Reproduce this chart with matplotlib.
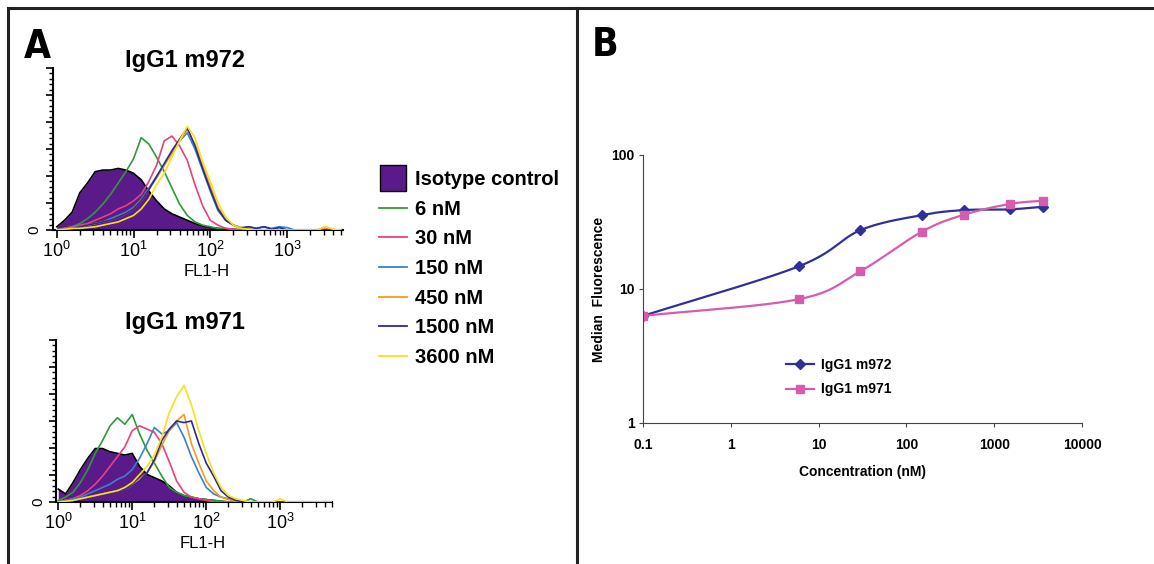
import matplotlib
matplotlib.use("Agg")
import matplotlib.pyplot as plt
import numpy as np
from matplotlib.lines import Line2D
from matplotlib.ticker import FixedLocator, FixedFormatter, NullFormatter

plt.rcParams['font.family'] = ['Liberation Sans', 'DejaVu Sans']
plt.rcParams['mathtext.fontset'] = 'custom'
plt.rcParams['mathtext.rm'] = 'Liberation Sans'

# histogram channels, log10(FL1-H)
log_fl = np.round(np.arange(0, 3.75, 0.1), 1)

# panel A, top (IgG1 m972), counts as % of axis height
iso_top = [2, 6, 11, 23, 29, 36, 37, 37, 38, 37, 35, 31, 24, 18, 13, 10, 8, 6, 4, 2.5, 1.5, 1, 0.5, 0.5,
           0, 0, 0, 0, 0, 0, 0, 0, 0, 0, 0, 0, 0, 0]
green_top = [0, 1, 2, 4, 7, 11, 16, 22, 29, 36, 44, 57, 53, 45, 36, 26, 16, 9, 5, 3, 2, 1, 1,
             0, 0, 0, 0, 0, 0, 0, 0, 0, 0, 0, 0, 0, 0, 0]
pink_top = [0, 1, 2, 3, 4, 6, 8, 10, 13, 15, 18, 22, 30, 40, 55, 58, 52, 43, 28, 15, 6, 3, 1, 0.5,
            0, 0.5, 0, 0, 0, 0, 0, 0, 0, 0, 0, 1.5, 0, 0]
blue_top = [0, 1, 1.5, 2, 3, 4, 5, 7, 9, 11, 14, 19, 26, 33, 40, 48, 55, 60, 50, 37, 24, 12, 6, 3, 1.5,
            2, 1, 2, 1, 2, 1.5, 0, 0, 0, 0, 0, 0, 0]
orange_top = [0, 0.5, 1, 2, 3, 4, 5, 6, 8, 10, 13, 18, 25, 32, 40, 47, 55, 62, 53, 40, 27, 14, 7, 3, 1.5,
              0.5, 0, 0, 0, 0, 0, 0, 0, 0, 0, 2, 0, 0]
navy_top = [0, 0.5, 1, 2, 3, 4, 5, 6, 8, 10, 13, 18, 25, 33, 41, 49, 56, 63, 52, 38, 25, 13, 6, 3, 1,
            2, 1, 2, 0.5, 1.5, 0, 0, 0, 0, 0, 0, 0, 0]
yellow_top = [0, 0.5, 1, 1, 1.5, 2, 3, 4, 5, 7, 9, 13, 19, 28, 35, 45, 55, 64, 57, 42, 30, 17, 8, 3, 1,
              0.5, 0, 0, 0, 0, 0, 0, 0, 0, 0, 2, 0.5, 0]

# panel A, bottom (IgG1 m971)
iso_bot = [8, 5, 12, 20, 27, 33, 33, 31, 30, 29, 30, 22, 17, 15, 13, 10, 6, 4, 3, 2, 1.5, 1, 0.5,
           0, 0, 0, 0, 0, 0, 0, 0, 0, 0, 0, 0, 0, 0, 0]
green_bot = [1, 3, 6, 12, 20, 30, 38, 47, 52, 48, 54, 42, 32, 24, 16, 9, 6, 4, 3, 2, 1.5, 1, 0.5,
             0, 0, 0, 2, 0, 0, 0, 0, 0, 0, 0, 0, 0, 0, 0]
pink_bot = [0, 1, 2, 4, 7, 11, 16, 22, 28, 34, 44, 47, 45, 43, 36, 25, 13, 6, 3, 2, 1,
            0, 0, 0, 0, 0, 0, 0, 0, 0, 0, 0, 0, 0, 0, 0, 0, 0]
blue_bot = [0, 1, 2, 3, 5, 7, 9, 11, 14, 16, 20, 27, 36, 46, 42, 44, 49, 40, 28, 18, 9, 5, 3, 2, 1,
            0, 0, 0, 0, 0, 0, 0, 0, 0, 0, 0, 0, 0]
orange_bot = [0, 0.5, 1, 2, 3, 4, 5, 6, 7, 8, 10, 14, 18, 25, 35, 44, 50, 54, 36, 24, 13, 7, 3, 1.5, 0.5,
              0, 0, 0, 0, 0, 0, 0, 0, 0, 0, 0, 0, 0]
navy_bot = [0, 0.5, 1, 2, 3, 4, 5, 6, 7, 8, 10, 13, 18, 26, 38, 45, 50, 49, 50, 36, 24, 16, 7, 3, 1,
            0, 0, 0, 0, 0, 0, 0, 0, 0, 0, 0, 0, 0]
yellow_bot = [0, 0.5, 1, 2, 3, 4, 5, 6, 7, 9, 12, 17, 22, 29, 40, 55, 65, 72, 60, 44, 30, 18, 9, 4, 2,
              1, 0, 0, 0, 0, 2, 0, 0, 0, 0, 0, 0, 0]

conc_labels = ['6 nM', '30 nM', '150 nM', '450 nM', '1500 nM', '3600 nM']
conc_colors = ['#2f9a3a', '#e8417c', '#3d7fcf', '#f39c1f', '#2b2b96', '#f6e21a']
iso_color = '#5a1a8a'

# panel B
conc = [0.1, 6, 30, 150, 450, 1500, 3600]
m972 = [6.3, 14.8, 27.5, 35.6, 38.8, 39.3, 41.1]
m971 = [6.3, 8.4, 13.6, 26.8, 35.8, 43.1, 45.6]


def smooth(x, y, n=24):
    # catmull-rom through the points in log-log space, like the spreadsheet "smoothed line"
    lx, ly = np.log10(x), np.log10(y)
    px = np.concatenate([[2 * lx[0] - lx[1]], lx, [2 * lx[-1] - lx[-2]]])
    py = np.concatenate([[2 * ly[0] - ly[1]], ly, [2 * ly[-1] - ly[-2]]])
    ox, oy = [], []
    t = np.linspace(0, 1, n)
    for i in range(1, len(px) - 2):
        for p, o in ((px, ox), (py, oy)):
            p0, p1, p2, p3 = p[i - 1], p[i], p[i + 1], p[i + 2]
            o.extend(0.5 * (2 * p1 + (-p0 + p2) * t + (2 * p0 - 5 * p1 + 4 * p2 - p3) * t ** 2
                            + (-p0 + 3 * p1 - 3 * p2 + p3) * t ** 3))
    return 10 ** np.array(ox), 10 ** np.array(oy)


fig = plt.figure(figsize=(11.54, 5.64), dpi=100)
W, H = 1154, 564


def box(l, t, r, b):
    return [l / W, 1 - b / H, (r - l) / W, (b - t) / H]


def hist_axes(rect, xlim, iso, curves, title, title_y):
    ax = fig.add_axes(rect)
    xs = 10 ** log_fl
    ax.fill_between(xs, 0, iso, color=iso_color, lw=0, zorder=1)
    ax.plot(xs, iso, color='black', lw=1.2, zorder=2)
    for c, col in zip(curves, conc_colors):
        ax.plot(xs, c, color=col, lw=1.2, zorder=3)
    ax.set_xscale('log')
    ax.set_xlim(*xlim)
    ax.set_ylim(0, 100)
    for s in ('top', 'right'):
        ax.spines[s].set_visible(False)
    for s in ('left', 'bottom'):
        ax.spines[s].set_linewidth(1.5)
    ax.set_xticks([1, 10, 100, 1000])
    ax.set_xticklabels([r'$\mathregular{10^{%d}}$' % i for i in range(4)], fontsize=13)
    ax.xaxis.set_minor_locator(FixedLocator([m * 10 ** d for d in range(4) for m in range(2, 10)]))
    ax.xaxis.set_minor_formatter(NullFormatter())
    ax.tick_params(axis='x', which='major', length=6, width=1.2, direction='out', pad=2)
    ax.tick_params(axis='x', which='minor', length=3.5, width=1.0, direction='out')
    ax.yaxis.set_major_locator(FixedLocator(np.linspace(0, 100, 7)))
    ax.yaxis.set_minor_locator(FixedLocator(np.linspace(0, 100, 31)))
    ax.yaxis.set_major_formatter(NullFormatter())
    ax.tick_params(axis='y', which='major', length=5, width=1.2, direction='out')
    ax.tick_params(axis='y', which='minor', length=3, width=1.0, direction='out')
    ax.set_xlabel('FL1-H', fontsize=12, labelpad=1)
    ax.xaxis.set_label_coords(0.53, -0.21)
    ax.text(-0.065, 0.0, '0', rotation=90, transform=ax.transAxes, fontsize=11,
            ha='center', va='center')
    fig.text(0.16, title_y, title, fontsize=17, fontweight='bold', ha='center', va='center')
    return ax


curves_top = [green_top, pink_top, blue_top, orange_top, navy_top, yellow_top]
curves_bot = [green_bot, pink_bot, blue_bot, orange_bot, navy_bot, yellow_bot]
ax1 = hist_axes(box(53, 68, 343, 230), (10 ** -0.05, 10 ** 3.73), iso_top, curves_top,
                'IgG1 m972', 1 - 60 / H)
ax2 = hist_axes(box(56, 340, 332, 502), (10 ** -0.03, 10 ** 3.7), iso_bot, curves_bot,
                'IgG1 m971', 1 - 323 / H)

# legend for panel A
handles = [Line2D([], [], ls='none', marker='s', markersize=19, markerfacecolor=iso_color,
                  markeredgecolor='black', markeredgewidth=1.0)]
handles += [Line2D([], [], color=c, lw=1.3) for c in conc_colors]
fig.legend(handles, ['Isotype control'] + conc_labels, loc='upper left',
           bbox_to_anchor=(369 / W, 1 - 160 / H), frameon=False, borderpad=0,
           handlelength=1.4, handletextpad=0.4, labelspacing=0.53,
           prop={'size': 14.5, 'weight': 'bold'})

# panel B
axb = fig.add_axes(box(643, 155, 1082, 423))
sx, sy = smooth(conc, m972)
axb.plot(sx, sy, color='#30309a', lw=1.6)
axb.plot(conc, m972, ls='none', marker='D', markersize=5.5, color='#30309a')
sx, sy = smooth(conc, m971)
axb.plot(sx, sy, color='#d65cae', lw=1.6)
axb.plot(conc, m971, ls='none', marker='s', markersize=5.5, color='#d65cae')
axb.set_xscale('log')
axb.set_yscale('log')
axb.set_xlim(0.1, 10000)
axb.set_ylim(1, 100)
for s in ('top', 'right'):
    axb.spines[s].set_visible(False)
for s in ('left', 'bottom'):
    axb.spines[s].set_color('#444444')
axb.xaxis.set_major_locator(FixedLocator([0.1, 1, 10, 100, 1000, 10000]))
axb.xaxis.set_major_formatter(FixedFormatter(['0.1', '1', '10', '100', '1000', '10000']))
axb.xaxis.set_minor_locator(FixedLocator([]))
axb.yaxis.set_major_locator(FixedLocator([1, 10, 100]))
axb.yaxis.set_major_formatter(FixedFormatter(['1', '10', '100']))
axb.yaxis.set_minor_locator(FixedLocator([]))
axb.tick_params(length=3, color='#444444', labelsize=10, pad=8)
axb.tick_params(axis='y', pad=3)
for lab in axb.get_xticklabels() + axb.get_yticklabels():
    lab.set_fontweight('bold')
axb.set_xlabel('Concentration (nM)', fontsize=10, fontweight='bold', labelpad=9)
axb.set_ylabel('Median  Fluorescence', fontsize=10, fontweight='bold', labelpad=4)
hb = [Line2D([], [], color='#30309a', lw=1.6, marker='D', markersize=5.5),
      Line2D([], [], color='#d65cae', lw=1.6, marker='s', markersize=5.5)]
axb.legend(hb, ['IgG1 m972', 'IgG1 m971'], loc='upper left',
           bbox_to_anchor=(779 / W, 1 - 351 / H), bbox_transform=fig.transFigure,
           frameon=False, borderpad=0, handlelength=2.0, handletextpad=0.5,
           labelspacing=0.75, prop={'size': 10, 'weight': 'bold'})

# panel letters and frame
fig.text(24 / W, 1 - 58 / H, 'A', fontsize=28, fontweight='bold', fontstretch='condensed',
         family='DejaVu Sans')
fig.text(592 / W, 1 - 56 / H, 'B', fontsize=28, fontweight='bold', fontstretch='condensed',
         family='DejaVu Sans')
frame = dict(color='#222222', lw=2.2, transform=fig.transFigure)
fig.add_artist(Line2D([8 / W, 1], [1 - 8 / H, 1 - 8 / H], **frame))
fig.add_artist(Line2D([8 / W, 8 / W], [0, 1 - 8 / H], **frame))
fig.add_artist(Line2D([577 / W, 577 / W], [0, 1 - 8 / H], **frame))

fig.savefig('out.png', dpi=100)
